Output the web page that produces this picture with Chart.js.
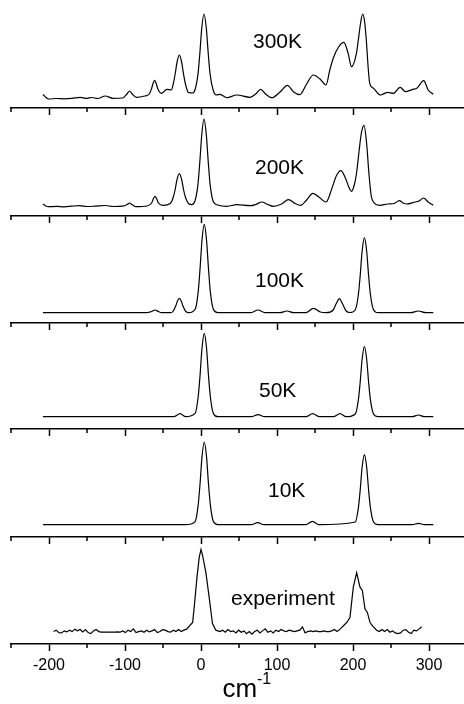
<!DOCTYPE html>
<html>
<head>
<meta charset="utf-8">
<script src="https://cdn.jsdelivr.net/npm/chart.js@4.4.1/dist/chart.umd.min.js"></script>
<style>
  html, body { margin:0; padding:0; background:#fff; overflow:hidden; }
  #wrap { position:relative; width:464px; height:704px; overflow:hidden; }
  #wrap canvas { position:absolute; left:0; }
</style>
</head>
<body>
<div id="wrap"></div>
<script>
// ---------------------------------------------------------------
// Spectra. x in cm^-1, y in arbitrary intensity
// units (each panel runs 0..107 above its own axis).
// ---------------------------------------------------------------
const majorTicks = [-200, -100, 0, 100, 200, 300];
const minorTicks = [-250, -150, -50, 50, 150, 250, 350];
const panelLabels = ['300K', '200K', '100K', '50K', '10K', 'experiment'];

const x300 = [-208,-204,-200,-190,-180,-170,-159,-150,-144,-136,-126,-116,-103,-97,-94,-91,-85,-74,-68,-65,-63,-61,-59,-57,-52,-45,-39,-36.5,-34,-31.5,-28.5,-25.5,-23,-20.5,-16.5,-11,-8,-4,-1.5,1,4,7,9.5,12,16,20,25,34,47,64.5,72,78.5,85,93,104,113.6,122,130,139,147.8,156.6,164.5,169.5,174,181,188,193.6,198,204.5,207,210,212.7,215,217.5,220,222,227,236,246,253,262,269,278.5,284,293,299,305.6];
const y300 = [13.7,10.5,9,9.5,9.2,9.6,10.7,9.6,10.5,9.5,12,9.7,10,14.5,17,14.5,10.7,12,14,19.5,24.7,27.7,24.7,19.5,14.7,18.7,18,24,34,46,53,46,34,24,15.5,15,18,33.6,54.8,79.8,94,79.8,54.8,33.6,18,13,13.7,10.3,13,10.7,14,18.7,14,10.3,16,22.7,16,13.3,24,33,29,23,38,49.7,61,65.7,54.7,41.3,54.7,68,85,94,88,68,40,24.7,19.7,13,15.7,14.7,20.7,16.3,18.7,19.7,27.3,18,13.7];

const x200 = [-208,-204,-201,-190,-180,-170,-160,-150,-140,-126,-115,-103,-97,-94,-91,-86,-71,-65,-62.5,-60.5,-58.5,-56,-50,-40.5,-36.5,-34,-31.5,-28.5,-25.5,-23,-20.5,-16.5,-12,-8,-4,-1.5,1,4,7,9.5,12,16,22,34,47,64.5,72,80,88,95,106,115,124,131,139,147,155,164.5,172,178,184,190,195,198,202,205,208,211,214.5,218,221,224,227,234.6,246,254,261,266,270.6,281.6,287,292.5,299,305.6];
const y200 = [12,10,9.3,9.6,9.2,9.8,10.3,9.5,9.8,10.5,9.5,9.8,11.5,13,11.5,9.3,10,13,17.5,19.7,17.5,13,10.7,12.5,18.7,26.5,36.7,42.3,36.7,26.5,18.7,12.5,11.3,14.8,31.6,54.6,81.3,97,81.3,54.6,31.6,14.8,11,9.7,11.3,10.3,11.5,14,11.5,9.7,12,16.3,12.5,10.7,16,22.7,19,14,27,40,45.3,38,28,24.7,32,45,65,83,90.7,72,42,20,14,10.7,12,12.5,15.3,13,12,14,15,18,14,10.7];

const x100 = [-208,-75,-70,-65,-60.5,-56,-52,-40,-37,-33,-31,-28.5,-26,-24,-20,-16,-7.7,-3.7,-1.2,1.3,4.3,7.3,9.8,12.3,16.3,22,66,75,84,104,113,122,138,148,157,164.5,174,178,182,186,191,196,203,207,209.5,212,215,218,220.5,223,227,233,276,286,296,305.6];
const y100 = [10.3,10.3,10.5,11.5,13,11.5,10.3,10.3,11.5,17.5,22,24.7,22,17.5,11.5,10.3,13.7,31.1,54.9,82.8,98.7,82.8,54.9,31.1,13.7,10.3,10.3,13,10.3,10.3,12,10.3,10.3,14.7,11,10.3,13,19.5,24.3,19.5,12,10.5,13.3,28,47.8,71.8,85.3,71.8,47.8,28,13.3,10.3,10.3,12,10.3,10.3];

const x50 = [-208,-36,-27.6,-20,-7.7,-3.7,-1.2,1.3,4.3,7.3,9.8,12.3,16.3,22,66,75,84,138,147,156,174,183,191,203,207,209.5,212,215,218,220.5,223,227,233,278,286,294,305.6];
const y50 = [12.3,12.3,15.3,12.3,15.6,32.3,54,80.7,95.7,80.7,54,32.3,15.6,12.3,12.3,14.3,12.3,12.3,15.3,12.3,12.3,15.3,12.3,15,28.8,47.3,69.7,82.3,69.7,47.3,28.8,15,12.3,12.3,14,12.3,12.3];

const x10 = [-208,-20,-7.7,-3.7,-1.2,1.3,4.3,7.3,9.8,12.3,16.3,22,66,74.6,83,138,146.5,155,203,207,209.5,212,215,218,220.5,223,227,233,278,286,294,305.6];
const y10 = [12.3,12.3,15.4,32.1,53.7,80.1,95,80.1,53.7,32.1,15.4,12.3,12.3,14.3,12.3,12.3,15.7,12.3,15,28.8,47.3,69.7,82.3,69.7,47.3,28.8,15,12.3,12.3,13.7,12.3,12.3];

const xExp = [
  -194,-190.5,-187,-183.5,-180,-176.5,-173,-169.5,-166,-162.5,-159,-155.5,-152,-148.5,-145,-141.5,-138,-134.5,-131,-127.5,-124,-120.5,-117,-113.5,-110,-106.5,-103,-99.5,-96,-92.5,-89,-85.5,-82,-78.5,-75,-71.5,-68,-64.5,-61,-57.5,-54,-50.5,-47,-43.5,-40,-36.5,-33,-29.5,-26,-22.5,-19,
  -11,-9,-5.3,-2.3,0,2,6.4,10.8,15.1,19.5,
  25,28.5,32,35.5,39,42.5,46,49.5,53,56.5,60,63.5,67,70.5,74,77.5,81,84.5,88,91.5,95,98.5,102,105.5,109,112.5,116,119.5,123,126.5,130,133.5,137,140.5,144,147.5,151,154.5,158,161.5,165,168.5,172,175.5,179,
  183,191.7,196,200.4,204.8,209.2,212.3,215.8,218.9,222.4,226.8,231.1,
  234.6,238.1,241.6,245.1,248.6,252.1,255.6,259.1,262.6,266.1,269.6,273.1,276.6,280.1,283.6,287.1,290.4
];
const yExp = [
  12.3,13.7,11.3,11,13,12,13.7,12.3,14.7,13,14.3,12,14.3,11.3,10.3,13,14.3,12.3,11.7,11.7,11.7,11.7,11.7,11.7,12,11.7,13,11.3,13.7,12.3,15,11.3,12.3,13,11.7,13.7,12,13,14.3,11.3,12.3,14.3,13.7,12.3,11.7,13.7,12.3,14.3,12.3,13.7,14.7,
  21.3,36,66,86,93.7,88,71,46,20.3,13.7,
  12.3,13.7,11.7,14.3,12.3,13,11,13.7,11.7,13,10.3,12.3,9.7,12.3,13.7,11,13,15,11.7,13,11,13.7,12.3,14.3,13,12.3,13.7,13,12.3,13,13.7,17,11,12.3,13,12.3,13,12.3,12.3,13,12.3,12.3,13,14.3,12.3,
  14.7,21.3,26.3,56.3,70.7,56.3,53,34.7,31.3,21.3,17,13.7,
  12.3,14.3,12.3,14.3,11.7,13,11,10.3,11,13.7,14.3,11.7,10.3,13.7,13,15,17
];

// ---------------------------------------------------------------
// Layout: one canvas per panel, stacked
// ---------------------------------------------------------------
const FONT = '"Liberation Sans", Arial, sans-serif';
const PANEL_H = 107;
const panels = [
  { xs: x300, ys: y300, smooth: true,  axisY: 108, tx: 253, ty: 48 },
  { xs: x200, ys: y200, smooth: true,  axisY: 216, tx: 255, ty: 174 },
  { xs: x100, ys: y100, smooth: true,  axisY: 323, tx: 255, ty: 287 },
  { xs: x50,  ys: y50,  smooth: true,  axisY: 429, tx: 259, ty: 397 },
  { xs: x10,  ys: y10,  smooth: true,  axisY: 537, tx: 268, ty: 497 },
  { xs: xExp, ys: yExp, smooth: false, axisY: 643, tx: 231, ty: 605 }
];

const minorTickPlugin = {
  id: 'minorTicks',
  afterDraw(chart){
    const s = chart.scales.x, ctx = chart.ctx;
    ctx.save();
    ctx.strokeStyle = '#000';
    ctx.lineWidth = 1.5;
    minorTicks.forEach(v => {
      const px = s.getPixelForValue(v);
      ctx.beginPath();
      ctx.moveTo(px, s.top);
      ctx.lineTo(px, s.top + 4);
      ctx.stroke();
    });
    ctx.restore();
  }
};

const textPlugin = {
  id: 'panelText',
  afterDraw(chart, args, opts){
    const ctx = chart.ctx;
    ctx.save();
    ctx.fillStyle = '#000';
    ctx.textBaseline = 'alphabetic';
    ctx.textAlign = 'left';
    ctx.font = '21px ' + FONT;
    ctx.fillText(opts.text, opts.x, opts.y);
    if (opts.title) {
      ctx.font = '26px ' + FONT;
      ctx.fillText('cm', 222.5, opts.titleY);
      ctx.font = '16px ' + FONT;
      ctx.fillText('-1', 257, opts.titleY - 13.5);
    }
    ctx.restore();
  }
};

const wrap = document.getElementById('wrap');

panels.forEach((p, i) => {
  const last = i === panels.length - 1;
  const top = p.axisY - PANEL_H;
  const cv = document.createElement('canvas');
  cv.width = 470;
  cv.height = last ? 704 - top : PANEL_H + 7;
  cv.style.top = top + 'px';
  wrap.appendChild(cv);

  new Chart(cv, {
    type: 'line',
    data: {
      datasets: [{
        data: p.xs.map((x, k) => ({ x: x, y: p.ys[k] })),
        borderColor: '#000',
        borderWidth: 1.2,
        pointRadius: 0,
        fill: false,
        tension: 0,
        cubicInterpolationMode: p.smooth ? 'monotone' : 'default'
      }]
    },
    options: {
      responsive: false,
      animation: false,
      events: [],
      layout: { padding: { left: 11, right: 3, top: 0, bottom: last ? 23.8 : 0 } },
      plugins: {
        legend: { display: false },
        tooltip: { enabled: false },
        panelText: {
          text: panelLabels[i], x: p.tx, y: p.ty - top,
          title: last, titleY: 697 - top
        }
      },
      scales: {
        x: {
          type: 'linear',
          min: -250,
          max: 350,
          afterBuildTicks: s => { s.ticks = majorTicks.map(v => ({ value: v })); },
          grid: { drawOnChartArea: false, tickLength: 7, tickWidth: 1.5, tickColor: '#000' },
          border: { color: '#000', width: 1.5 },
          ticks: {
            display: last,
            padding: 5,
            color: '#000',
            autoSkip: false,
            maxRotation: 0,
            font: { family: FONT, size: 16 },
            callback: v => String(v)
          }
        },
        y: { display: false, min: 0, max: PANEL_H }
      }
    },
    plugins: [minorTickPlugin, textPlugin]
  });
});
</script>
</body>
</html>
